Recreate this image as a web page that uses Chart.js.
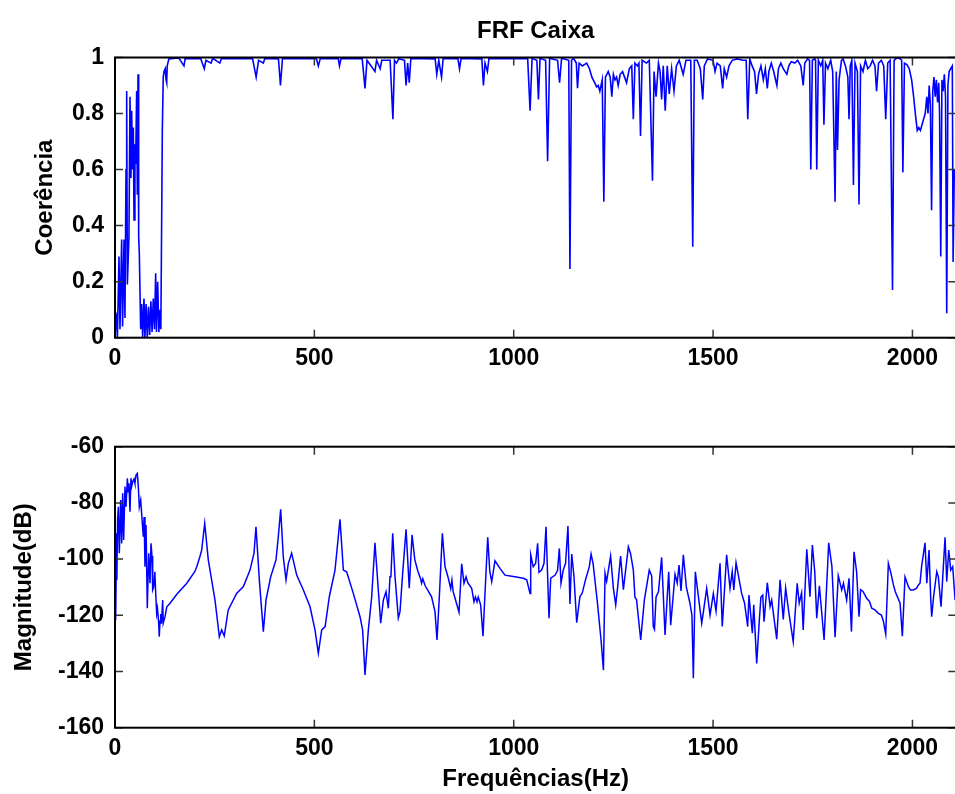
<!DOCTYPE html>
<html>
<head>
<meta charset="utf-8">
<script src="https://cdn.jsdelivr.net/npm/chart.js@4.4.0/dist/chart.umd.min.js"></script>
<style>
  html, body { margin: 0; padding: 0; background: #fff; }
  #wrap { position: relative; width: 955px; height: 794px; overflow: hidden; background: #fff; }
  #wrap canvas { position: absolute; left: 0; }
  #cohChart { top: 0; }
  #magChart { top: 380px; }
</style>
</head>
<body>
<div id="wrap">
  <canvas id="cohChart" width="960" height="380"></canvas>
  <canvas id="magChart" width="960" height="414"></canvas>
</div>
<script>
// 1. Data
const xTicks = [0, 500, 1000, 1500, 2000];
const cohTicks = [0, 0.2, 0.4, 0.6, 0.8, 1];
const magTicks = [-160, -140, -120, -100, -80, -60];

// Coherence (top plot)
const cohFreq = [
  0, 2.5, 6, 10, 12.5, 16.7, 19, 22.6, 25, 27.6, 29.3, 31, 35, 37.6, 40, 41.8, 44.3, 46, 47.7, 50,
  51.8, 54.3, 56, 57.7, 59.4, 61, 64.4, 66.9, 69.4, 72.7, 75, 78, 81, 84, 87, 90, 93, 96, 99, 102,
  104, 107, 110, 113, 115, 118.7, 121, 123, 126, 128, 129.6, 131, 135,
  160, 173, 176, 215, 224, 228, 241, 245, 263, 267, 345, 354, 360, 372, 376, 410, 415, 420,
  505, 510, 515, 560, 563, 567, 620, 627, 632, 652, 656, 665, 669, 690, 697, 701, 706, 712,
  726, 730, 734, 738, 742, 803, 807, 812, 819, 823, 860, 864, 868, 920, 924, 928, 934, 938,
  1035, 1041, 1046, 1058, 1062, 1066, 1080, 1085, 1090, 1110, 1115, 1120, 1138, 1141, 1145, 1150,
  1157, 1160, 1164, 1172, 1183, 1190, 1196, 1203, 1208, 1212, 1216, 1222, 1226, 1230, 1237, 1242,
  1246, 1250, 1254, 1258, 1262, 1267, 1273, 1278, 1283, 1290, 1296, 1300, 1304, 1310, 1314, 1318,
  1322, 1333, 1340, 1348, 1352, 1357, 1363, 1367, 1371, 1375, 1380, 1385, 1390, 1396, 1402, 1408,
  1415, 1425, 1432, 1444, 1449, 1453, 1460, 1468, 1474, 1478, 1486, 1500, 1505, 1510, 1518, 1524,
  1528, 1534, 1540, 1548, 1560, 1575, 1583, 1587, 1592, 1598, 1604, 1609, 1614, 1620, 1626, 1631,
  1636, 1640, 1646, 1652, 1660, 1664, 1670, 1676, 1685, 1690, 1696, 1705, 1712, 1720, 1726, 1730,
  1737, 1742, 1745, 1749, 1755, 1757, 1760, 1764, 1770, 1775, 1778, 1782, 1788, 1795, 1800, 1806,
  1809, 1812, 1816, 1822, 1826, 1832, 1838, 1841, 1844, 1848, 1852, 1856, 1862, 1866, 1870, 1876,
  1882, 1888, 1894, 1900, 1906, 1910, 1915, 1922, 1928, 1933, 1938, 1944, 1950, 1954, 1960, 1968,
  1973, 1976, 1980, 1986, 1992, 1998, 2003, 2008, 2012, 2016, 2020, 2024, 2028, 2032, 2036, 2039,
  2042, 2045, 2048, 2051, 2054, 2057, 2060, 2063, 2066, 2068, 2071, 2074, 2077, 2080, 2083, 2086,
  2089, 2092, 2096, 2100, 2102, 2105
];
const cohVal = [
  0.05, 0.09, 0.0, 0.29, 0.03, 0.35, 0.04, 0.35, 0.07, 0.6, 0.88, 0.19, 0.36, 0.86, 0.57, 0.81, 0.6, 0.75, 0.42, 0.69,
  0.62, 0.88, 0.51, 0.94, 0.36, 0.30, 0.03, 0.12, 0.0, 0.14, 0.0, 0.12, 0.0, 0.11, 0.01, 0.13, 0.02, 0.14, 0.03, 0.23,
  0.02, 0.2, 0.02, 0.1, 0.03, 0.74, 0.93, 0.95, 0.96, 0.92, 0.91, 0.97, 0.995,
  0.998, 0.97, 0.997, 0.996, 0.96, 0.99, 0.98, 0.997, 0.98, 0.997, 0.996, 0.93, 0.99, 0.98, 0.997, 0.995, 0.90, 0.997,
  0.996, 0.97, 0.997, 0.996, 0.97, 0.997, 0.996, 0.89, 0.99, 0.95, 0.99, 0.96, 0.99, 0.99, 0.78, 0.99, 0.98, 0.996,
  0.99, 0.90, 0.98, 0.91, 0.997, 0.995, 0.94, 0.99, 0.93, 0.997, 0.996, 0.96, 0.997, 0.995, 0.90, 0.98, 0.95, 0.997,
  0.996, 0.81, 0.997, 0.99, 0.85, 0.997, 0.99, 0.63, 0.997, 0.99, 0.91, 0.997, 0.99, 0.245, 0.99, 0.997,
  0.98, 0.89, 0.98, 0.97, 0.98, 0.96, 0.93, 0.91, 0.895, 0.9, 0.88, 0.92, 0.485, 0.93, 0.95, 0.93,
  0.86, 0.94, 0.92, 0.93, 0.90, 0.94, 0.95, 0.93, 0.91, 0.96, 0.97, 0.78, 0.98, 0.97, 0.98, 0.72,
  0.99, 0.98, 0.99, 0.56, 0.95, 0.86, 0.98, 0.95, 0.85, 0.97, 0.81, 0.97, 0.87, 0.96, 0.88, 0.97,
  0.99, 0.94, 0.99, 0.99, 0.325, 0.99, 0.99, 0.96, 0.85, 0.97, 0.995, 0.99, 0.95, 0.98, 0.97, 0.89,
  0.96, 0.93, 0.97, 0.99, 0.995, 0.99, 0.99, 0.78, 0.995, 0.97, 0.95, 0.87, 0.94, 0.97, 0.92, 0.96,
  0.89, 0.95, 0.98, 0.95, 0.90, 0.96, 0.98, 0.96, 0.94, 0.97, 0.985, 0.98, 0.99, 0.97, 0.90, 0.98,
  0.995, 0.99, 0.60, 0.99, 0.995, 0.99, 0.60, 0.99, 0.97, 0.99, 0.76, 0.98, 0.96, 0.99, 0.95, 0.485,
  0.95, 0.67, 0.92, 0.99, 0.995, 0.97, 0.93, 0.78, 0.97, 0.99, 0.545, 0.98, 0.95, 0.475, 0.97, 0.95,
  0.99, 0.96, 0.97, 0.99, 0.97, 0.88, 0.98, 0.99, 0.97, 0.78, 0.98, 0.99, 0.17, 0.99, 0.998, 0.997,
  0.99, 0.59, 0.98, 0.975, 0.96, 0.92, 0.86, 0.79, 0.74, 0.75, 0.74, 0.76, 0.78, 0.80, 0.86, 0.80,
  0.90, 0.83, 0.455, 0.88, 0.93, 0.86, 0.92, 0.84, 0.91, 0.80, 0.29, 0.92, 0.88, 0.94, 0.86, 0.087,
  0.90, 0.95, 0.96, 0.97, 0.27, 0.60
];

// Magnitude in dB (bottom plot)
const magFreq = [
  0.5, 1.7, 4, 4.7, 6.5, 8.4, 10.8, 14.2, 16.7, 19.2, 21.7, 25, 27.6, 31, 33, 35, 37.6, 40, 42, 44.3,
  47.7, 50, 52.7, 56, 58.5, 61, 64.4, 68.6, 71, 73, 75.2, 77.8, 81, 84.5, 87.8, 90.3, 92.8, 94.5, 97, 100,
  102, 104.5, 106.5, 109.6, 111, 113, 114.6, 116.5, 119.6, 121, 125.4, 130, 138, 155, 180, 200, 205, 213, 217.4, 225,
  234, 250.8, 261.7, 267.6, 274, 284, 305, 322, 338.6, 348.6, 353.6, 362, 372, 378.7, 390.5, 403.8, 409.6, 415.5, 422, 428.9,
  434.7, 443, 455.7, 472.4, 489, 501.6, 510, 518.4, 527, 537.5, 551.8, 557.6, 564.3, 572.7, 581, 597.7, 614.5, 621, 627, 635.4,
  643.8, 652, 660.4, 666.4, 673, 679.7, 685.5, 689.7, 692, 696.5, 702.3, 710.6, 714.8, 721.5, 730, 738, 745, 752, 760, 766,
  769, 772, 778, 794, 802.6, 807.6, 813.4, 821, 827.7, 836, 842, 845, 848, 852, 862.8, 869.5, 875.3, 880.4, 885, 894.6,
  900.4, 904, 908, 911, 917, 923, 927, 934.8, 940, 944.8, 953, 965.6, 978, 999, 1024, 1032.6, 1041, 1042.6, 1049, 1055,
  1060, 1063.4, 1070, 1076, 1081, 1088.5, 1092.8, 1104, 1110, 1114.4, 1118.6, 1124, 1130, 1136, 1141, 1145.5, 1151, 1158, 1166, 1172,
  1180, 1189.6, 1194, 1199, 1209.7, 1219, 1225, 1229, 1233, 1243, 1250, 1255.8, 1261, 1268, 1275, 1287.5, 1293, 1300, 1304, 1308,
  1318.5, 1327.6, 1340, 1346, 1350, 1353, 1357, 1363, 1371, 1379.5, 1388.7, 1393.7, 1404.6, 1410, 1414.6, 1419.6, 1425.4, 1433, 1442, 1447,
  1450.5, 1455.5, 1462, 1471.5, 1476, 1484, 1492.4, 1500.7, 1507.4, 1517.4, 1523, 1534, 1542.5, 1548, 1552, 1557.6, 1571.7, 1579, 1586.8, 1590,
  1598.5, 1602, 1609.4, 1616, 1620, 1624.5, 1627.8, 1636, 1643, 1647, 1659.6, 1668, 1676, 1682, 1690, 1701, 1711, 1716, 1722, 1726,
  1735, 1743, 1749, 1755, 1760, 1766.6, 1778.4, 1790, 1798, 1806, 1814, 1822.6, 1827, 1835, 1841, 1847, 1853.5, 1860, 1866, 1870,
  1876, 1885.4, 1892, 1898, 1906, 1914.5, 1922, 1927, 1933, 1939.6, 1946, 1952, 1957, 1969, 1974.7, 1981.4, 1990, 1995, 2002, 2010,
  2015, 2019, 2023, 2031.6, 2036, 2041.6, 2046, 2048.3, 2053, 2061, 2065, 2071.7, 2081.8, 2086, 2091, 2096, 2101, 2107
];
const magVal = [
  -92, -121.7, -90.8, -107.4, -86, -81.4, -97.9, -79, -94.4, -76.6, -93.2, -74.2, -81.4, -71.2, -76, -73, -83.1, -71.2, -74, -72.5,
  -71.5, -73, -70.1, -69.5, -74.2, -81.4, -79, -87.3, -92, -85, -102.7, -87.9, -117.5, -97.9, -108.6, -94.4, -99, -111, -110, -104.5,
  -112, -119.3, -117.5, -122.8, -127.6, -122, -119.5, -123, -114.6, -122.8, -120.5, -117, -115.7, -112.5, -108.6, -104.5, -102.7, -99.1, -96.8, -87.3,
  -100.3, -114.6, -127.6, -125.2, -127.4, -118.1, -112.2, -109.8, -103.9, -97.9, -88.5, -107.4, -125.8, -114.6, -106.3, -100.3, -92, -82.3, -99.1, -107.4,
  -101.5, -97.9, -105.7, -111, -116.9, -125.2, -133.5, -125.2, -124, -113.4, -103.9, -95.6, -85.8, -103.9, -104.5, -112.2, -120.5, -125.2, -141.2, -125.2,
  -113.4, -94.2, -111, -122.8, -114.6, -111.6, -117.5, -106.3, -106.3, -90.8, -106.3, -121, -118.7, -105, -89.4, -110.4, -91.4, -100.3, -104.5, -106.8,
  -108.6, -107, -109.5, -113.4, -118.7, -128.8, -113.4, -90.8, -102.7, -106.8, -110.5, -107.5, -111.5, -113.5, -118.9, -101.7, -108.6, -106.3, -108.5, -110.4,
  -115.2, -113.5, -115.2, -113.5, -116.3, -127.4, -115, -92.2, -104.4, -108, -100.6, -103.3, -105.7, -106.2, -106.8, -107.4, -112.2, -98.5, -102.7, -101.5,
  -94.4, -104.7, -103.9, -101.5, -88.5, -121, -106.8, -105.7, -104, -96.2, -108.6, -104, -101.5, -88.2, -116, -98.2, -106, -122.6, -113.4, -112,
  -107.4, -102.7, -98.2, -101.5, -115.2, -128.8, -139.5, -105, -107.9, -98.9, -110.4, -116.3, -109.5, -98.9, -110.9, -95.6, -98, -103.9, -113.6, -114.4,
  -128.8, -114.6, -103.9, -106, -124, -125, -113.5, -111.6, -99.4, -127, -104.5, -123.5, -105.4, -108.5, -102.1, -111.3, -98.5, -110, -115.7, -120,
  -142.4, -104.5, -112, -122.8, -118.5, -110.4, -119.9, -112.2, -118.5, -101.5, -124, -98.5, -110.4, -104.5, -111, -101.3, -112.2, -115.7, -124, -112.8,
  -126.4, -116.3, -137.1, -121.7, -113.5, -112.8, -122.3, -108.4, -116.9, -114.6, -128.5, -107.4, -121.5, -110.4, -119, -129.4, -108.6, -115.7, -112, -125.2,
  -96.5, -113.4, -95, -104.5, -121, -109.5, -128.8, -94.2, -102.6, -127.8, -105.9, -111, -108.6, -114.6, -106.8, -125.8, -97.4, -104.5, -120.5, -110.9,
  -111.5, -114, -115, -117.5, -118.1, -119.3, -119.9, -122, -126.7, -101.5, -105, -109, -111.6, -115.7, -127.4, -106.3, -109.8, -111, -111, -110.4,
  -109.2, -108.6, -102.6, -94.2, -108.6, -96.8, -114.6, -120.5, -113.4, -104.5, -106.3, -116.9, -92.2, -108, -96.8, -103.9, -102.7, -114.6
];

// 2. Shared look
const FONT = "'Liberation Sans', Arial, sans-serif";
const tickFont = { family: FONT, size: 23, weight: 'bold' };
const labelFont = { family: FONT, size: 24, weight: 'bold' };
const X_MAX = 2110;

const toPoints = (xs, ys) => xs.map((x, i) => ({ x: x, y: ys[i] }));

// MATLAB style box with ticks drawn inside the axes
const insideTicks = {
  id: 'insideTicks',
  afterDraw(chart) {
    const { ctx, chartArea: a, scales: { x, y } } = chart;
    const len = 8;
    ctx.save();
    ctx.strokeStyle = '#333';
    ctx.lineWidth = 1.5;
    ctx.beginPath();
    x.ticks.forEach(t => {
      const px = x.getPixelForValue(t.value);
      ctx.moveTo(px, a.bottom); ctx.lineTo(px, a.bottom - len);
      ctx.moveTo(px, a.top); ctx.lineTo(px, a.top + len);
    });
    y.ticks.forEach(t => {
      const py = y.getPixelForValue(t.value);
      ctx.moveTo(a.left, py); ctx.lineTo(a.left + len, py);
      ctx.moveTo(a.right, py); ctx.lineTo(a.right - len, py);
    });
    ctx.stroke();
    ctx.strokeStyle = '#000';
    ctx.lineWidth = 2;
    ctx.strokeRect(a.left, a.top, a.right - a.left, a.bottom - a.top);
    ctx.restore();
  }
};

function makeOptions(o) {
  return {
    responsive: false,
    animation: false,
    events: [],
    layout: { padding: { left: 0, right: 3.7, top: o.padTop, bottom: 0 } },
    plugins: {
      legend: { display: false },
      tooltip: { enabled: false },
      title: o.title ? {
        display: true, text: o.title, color: '#000', fullSize: false,
        font: labelFont,
        padding: { top: 17, bottom: 11.7 }
      } : { display: false }
    },
    scales: {
      x: {
        type: 'linear', min: 0, max: X_MAX,
        afterBuildTicks: s => { s.ticks = xTicks.map(v => ({ value: v })); },
        afterFit: s => { s.height = o.xHeight; },
        grid: { display: false, drawTicks: false },
        border: { display: false },
        ticks: { color: '#000', font: tickFont, padding: 7, maxRotation: 0, autoSkip: false,
                 callback: v => String(v) },
        title: o.xTitle ? {
          display: true, text: o.xTitle, color: '#000', font: labelFont,
          padding: { top: 0, bottom: 0 }
        } : { display: false }
      },
      y: {
        type: 'linear', min: o.yMin, max: o.yMax,
        afterBuildTicks: s => { s.ticks = o.yTicks.map(v => ({ value: v })); },
        afterFit: s => { s.width = 115; },
        grid: { display: false, drawTicks: false },
        border: { display: false },
        ticks: { color: '#000', font: tickFont, padding: 11, autoSkip: false,
                 callback: v => String(v) },
        title: {
          display: true, text: o.yTitle, color: '#000', font: labelFont,
          padding: { top: o.yTitlePad, bottom: 0 }
        }
      }
    }
  };
}

// 3. Charts
new Chart(document.getElementById('cohChart'), {
  type: 'line',
  data: {
    datasets: [{
      data: toPoints(cohFreq, cohVal),
      borderColor: '#0000FF', borderWidth: 1.6, pointRadius: 0, tension: 0, fill: false
    }]
  },
  options: makeOptions({
    title: 'FRF Caixa', padTop: 0, xHeight: 42.3,
    yMin: 0, yMax: 1, yTicks: cohTicks, yTitle: 'Coerência', yTitlePad: 31
  }),
  plugins: [insideTicks]
});

new Chart(document.getElementById('magChart'), {
  type: 'line',
  data: {
    datasets: [{
      data: toPoints(magFreq, magVal),
      borderColor: '#0000FF', borderWidth: 1.5, pointRadius: 0, tension: 0, fill: false
    }]
  },
  options: makeOptions({
    title: null, padTop: 66.7, xHeight: 66.3, xTitle: 'Frequências(Hz)',
    yMin: -160, yMax: -60, yTicks: magTicks, yTitle: 'Magnitude(dB)', yTitlePad: 10
  }),
  plugins: [insideTicks]
});
</script>
</body>
</html>
